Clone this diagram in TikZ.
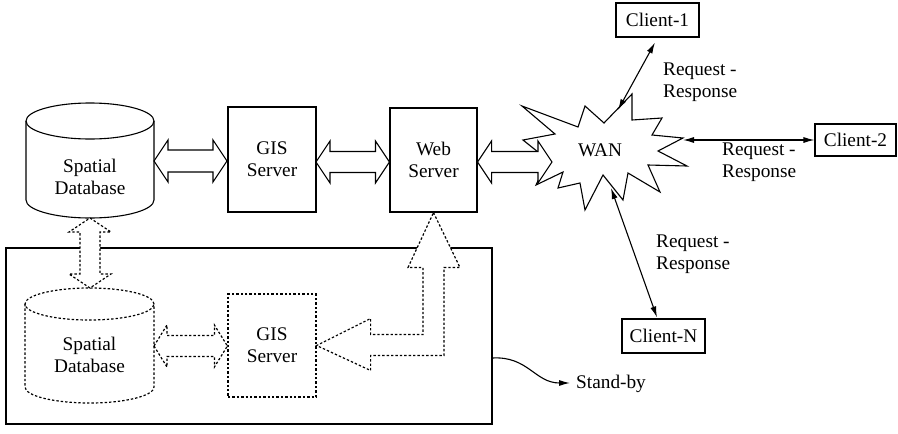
\documentclass[tikz,border=0pt]{standalone}
\usepackage{fontspec}
\setmainfont{Liberation Serif}
\usetikzlibrary{arrows.meta,calc}

% Double-headed block arrows: style, from, to, head half-width, shaft half-width, head length
\newcommand\hblock[6]{\draw[#1] let \p1=(#2), \p2=(#3) in
  (\x1,\y1) -- (\x1+#6,\y1+#4) -- (\x1+#6,\y1+#5) -- (\x2-#6,\y1+#5) -- (\x2-#6,\y1+#4)
  -- (\x2,\y1) -- (\x2-#6,\y1-#4) -- (\x2-#6,\y1-#5) -- (\x1+#6,\y1-#5) -- (\x1+#6,\y1-#4) -- cycle;}
\newcommand\vblock[6]{\draw[#1] let \p1=(#2), \p2=(#3) in
  (\x1,\y1) -- (\x1+#4,\y1-#6) -- (\x1+#5,\y1-#6) -- (\x1+#5,\y2+#6) -- (\x1+#4,\y2+#6)
  -- (\x1,\y2) -- (\x1-#4,\y2+#6) -- (\x1-#5,\y2+#6) -- (\x1-#5,\y1-#6) -- (\x1-#4,\y1-#6) -- cycle;}

\begin{document}
\begin{tikzpicture}[x=1pt,y=-1pt,
  every node/.style={font=\fontsize{19.3}{22}\selectfont},
  solidline/.style={line width=1.1pt},
  dotline/.style={line width=1.2pt, dash pattern=on 2.4pt off 2pt},
  box/.style={draw, solidline, align=center, inner sep=0pt},
  lbl/.style={align=left, anchor=west, inner sep=0pt},
  rr/.style={solidline, {Latex[length=11pt,width=6pt]}-{Latex[length=11pt,width=6pt]}},
  blk/.style={solidline, fill=white, line join=miter},
  dblk/.style={dotline, fill=white, line join=miter}
]
\useasboundingbox (0,0) rectangle (898,434);

% Stand-by enclosure
\node[draw, solidline, minimum width=486pt, minimum height=176pt, inner sep=0pt] (sb) at (249,336) {};

% Primary spatial database (cylinder)
\draw[solidline, fill=white] (26,121) -- (26,200)
  arc[start angle=180, end angle=360, x radius=64pt, y radius=18pt] -- (154,121);
\draw[solidline] (90,121) ellipse[x radius=64pt, y radius=18pt];
\node[align=center] (db1) at (90,177) {Spatial\\Database};
\coordinate (db1r) at (154,161);
\coordinate (db1b) at (90,218);

% Stand-by spatial database (dotted cylinder)
\draw[dotline] (25,304) -- (25,387)
  arc[start angle=180, end angle=360, x radius=64.5pt, y radius=16pt] -- (154,304);
\draw[dotline] (89.5,304) ellipse[x radius=64.5pt, y radius=16pt];
\node[align=center] (db2) at (89.5,355) {Spatial\\Database};
\coordinate (db2r) at (154,346);
\coordinate (db2t) at (90,288);

% Servers
\node[box, line width=2pt, minimum width=88pt, minimum height=105pt] (gis1) at (272,159.5) {GIS\\Server};
\node[box, minimum width=87pt, minimum height=104pt] (web) at (433.5,160) {Web\\Server};
\node[box, dotline, minimum width=88pt, minimum height=103pt] (gis2) at (272,345.5) {GIS\\Server};

% WAN cloud
\draw[solidline, fill=white, line join=miter]
  (522,106) -- (578,127) -- (585,106) -- (604,123) -- (632,94) -- (632,120)
  -- (662,118) -- (652,135) -- (683,138) -- (658,151) -- (687,166) -- (648,165)
  -- (660,192) -- (628,173) -- (623,200) -- (603,175) -- (585,210) -- (580,183)
  -- (558,188) -- (563,172) -- (536,185) -- (548,160) -- (523,140) -- (555,134) -- cycle;
\node (wan) at (600,150) {WAN};

% Block arrows between components
\coordinate (gis1l) at (gis1.west |- db1r);
\hblock{blk}{db1r}{gis1l}{21pt}{11pt}{14pt}
\coordinate (gis1r) at (316,162);
\coordinate (webl) at (web.west |- gis1r);
\hblock{blk}{gis1r}{webl}{21pt}{10.5pt}{14pt}
\coordinate (webr) at (web.east |- gis1r);
\coordinate (wanl) at (552,162);
\hblock{blk}{webr}{wanl}{21pt}{10.5pt}{14pt}
\vblock{dblk}{db1b}{db2t}{21pt}{10pt}{14pt}
\coordinate (gis2l) at (gis2.west |- db2r);
\hblock{dblk}{db2r}{gis2l}{21pt}{10.5pt}{13pt}

% Stand-by GIS server to web server
\draw[dblk] let \p1=(web.south), \p2=(gis2.east) in
  (\x1,\y1) -- (\x1+26.5pt,\y1-55pt) -- (\x1+10.5pt,\y1-55pt) -- (\x1+10.5pt,\y2-10pt)
  -- (\x2+54pt,\y2-10pt) -- (\x2+54pt,\y2-25pt) -- (\x2,\y2) -- (\x2+54pt,\y2+27pt)
  -- (\x2+54pt,\y2+11pt) -- (\x1-10.5pt,\y2+11pt) -- (\x1-10.5pt,\y1-55pt)
  -- (\x1-25.5pt,\y1-55pt) -- cycle;

% Clients
\node[box, minimum width=83pt, minimum height=34pt] (c1) at (657.5,20) {Client-1};
\node[box, minimum width=81pt, minimum height=32pt] (c2) at (855.5,140) {Client-2};
\node[box, minimum width=83pt, minimum height=34pt] (cn) at (663.5,336) {Client-N};

\coordinate (w1) at (618,110);
\coordinate (w2) at (683,140);
\coordinate (w3) at (611,188);
\draw[rr] (w1) -- ($(c1.south)+(-2.5,5)$);
\draw[rr] (w2) -- (c2.west);
\draw[rr] (w3) -- ($(cn.north)+(-6.5,-1)$);

\node[lbl] (l1) at (663,82) {Request -\\Response};
\node[lbl] (l2) at (722,162.5) {Request -\\Response};
\node[lbl] (l3) at (656,254) {Request -\\Response};

% Stand-by marker
\node[lbl] (sbt) at (576,384) {Stand-by};
\coordinate (sbo) at (sb.east |- 0,358);
\coordinate (sbe) at ($(sbt.west)+(-6,-1)$);
\draw[solidline, -{Latex[length=11pt,width=6pt]}] (sbo) .. controls (528,356) and (535,383) .. (sbe);
\end{tikzpicture}
\end{document}
